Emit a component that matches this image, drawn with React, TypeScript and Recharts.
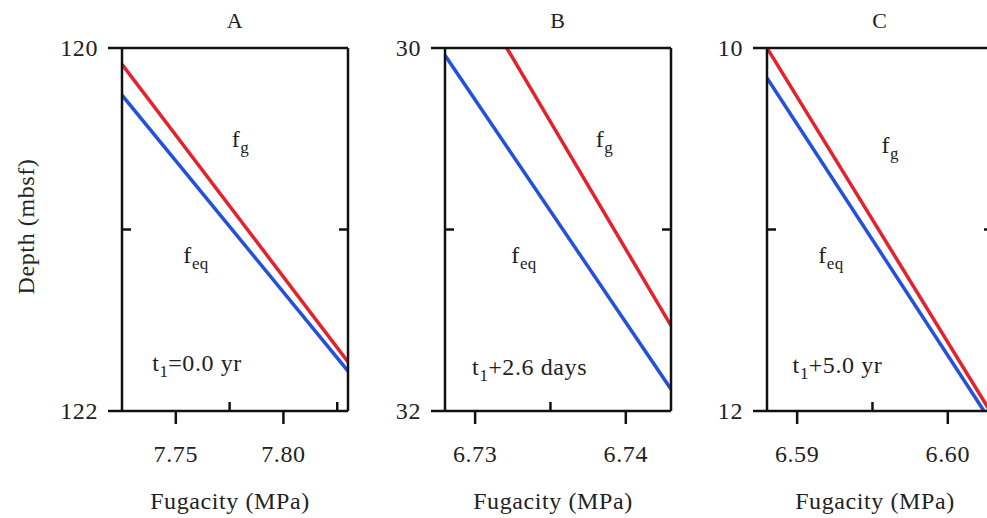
import { LineChart, Line, XAxis, YAxis, ReferenceDot, Label } from 'recharts';

const FONT = 'Liberation Serif';
const INK = '#111';
const RED = '#e5222b';
const BLUE = '#2350df';

// panel A: t1 = 0.0 yr
const xDomainA = [7.725, 7.83];
const xMajorA = [7.75, 7.8];
const xMinorA = [7.775, 7.825];
const yDomainA = [120, 122];
const gasA = [
  { f: 7.725, depth: 120.09 },
  { f: 7.83, depth: 121.73 },
];
const eqA = [
  { f: 7.725, depth: 120.26 },
  { f: 7.83, depth: 121.78 },
];
const notesA = { fg: [7.776, 120.545], feq: [7.7535, 121.185], t: [7.739, 121.78] };

// panel B: t1 + 2.6 days
const xDomainB = [6.728, 6.743];
const xMajorB = [6.73, 6.74];
const xMinorB = [6.735];
const yDomainB = [30, 32];
const gasB = [
  { f: 6.7321, depth: 30.0 },
  { f: 6.743, depth: 31.53 },
];
const eqB = [
  { f: 6.728, depth: 30.04 },
  { f: 6.743, depth: 31.88 },
];
const notesB = { fg: [6.738, 30.545], feq: [6.7324, 31.185], t: [6.7298, 31.8] };

// panel C: t1 + 5.0 yr
const xDomainC = [6.588, 6.603];
const xMajorC = [6.59, 6.6];
const xMinorC = [6.595];
const yDomainC = [10, 12];
const gasC = [
  { f: 6.588, depth: 10.0 },
  { f: 6.6028, depth: 12.0 },
];
const eqC = [
  { f: 6.588, depth: 10.165 },
  { f: 6.6024, depth: 12.0 },
];
const notesC = { fg: [6.5956, 10.58], feq: [6.5914, 11.185], t: [6.5897, 11.79] };

const titles = ['A', 'B', 'C'];
const timeLabels = ['=0.0 yr', '+2.6 days', '+5.0 yr'];

const txt = { fontFamily: FONT, fontSize: 24, fill: '#222', letterSpacing: 0.6 };

function Sub({ base, sub, rest }: { base: string; sub: string; rest?: string }) {
  return (
    <>
      <tspan>{base}</tspan>
      <tspan fontSize={17} dy={6} letterSpacing={0.3}>
        {sub}
      </tspan>
      {rest && <tspan dy={-6}>{rest}</tspan>}
    </>
  );
}

function Panel({
  left,
  title,
  xDomain,
  xMajor,
  xMinor,
  yDomain,
  gas,
  eq,
  notes,
  timeLabel,
  showYLabel,
}: any) {
  const xTicks = [...xMajor, ...xMinor].sort((a, b) => a - b);
  const yMid = (yDomain[0] + yDomain[1]) / 2;

  return (
    <div style={{ position: 'absolute', left, top: 0 }}>
      <LineChart width={358} height={518} margin={{ top: 0, right: 0, bottom: 0, left: 0 }}>
        <XAxis
          xAxisId="bottom"
          dataKey="f"
          type="number"
          domain={xDomain}
          ticks={xTicks}
          interval={0}
          allowDataOverflow
          height={107}
          tickSize={0}
          tickMargin={0}
          tickLine={false}
          axisLine={{ stroke: INK, strokeWidth: 2.5 }}
          tick={(p: any) => {
            const major = xMajor.includes(p.payload.value);
            return (
              <g>
                <line x1={p.x} x2={p.x} y1={p.y} y2={major ? p.y + 13 : p.y - 9} stroke={INK} strokeWidth={2.5} />
                {major && (
                  <text x={p.x} y={p.y + 51} textAnchor="middle" {...txt}>
                    {p.payload.value.toFixed(2)}
                  </text>
                )}
              </g>
            );
          }}
        >
          <Label
            content={(p: any) => (
              <text x={p.viewBox.x + p.viewBox.width / 2 - 5} y={p.viewBox.y + 98} textAnchor="middle" {...txt}>
                Fugacity (MPa)
              </text>
            )}
          />
        </XAxis>
        <XAxis
          xAxisId="top"
          orientation="top"
          type="number"
          domain={xDomain}
          ticks={xTicks}
          interval={0}
          allowDataOverflow
          height={48}
          tickSize={0}
          tickMargin={0}
          tickLine={false}
          axisLine={{ stroke: INK, strokeWidth: 2.5 }}
          tick={(p: any) => (
            <line x1={p.x} x2={p.x} y1={p.y} y2={p.y + 11} stroke={INK} strokeWidth={2.5} />
          )}
        >
          <Label
            content={(p: any) => (
              <text x={p.viewBox.x + p.viewBox.width / 2} y={28} textAnchor="middle" {...txt} fontSize={22}>
                {title}
              </text>
            )}
          />
        </XAxis>
        <YAxis
          yAxisId="left"
          dataKey="depth"
          type="number"
          domain={yDomain}
          ticks={[yDomain[0], yMid, yDomain[1]]}
          interval={0}
          reversed
          allowDataOverflow
          width={122}
          tickSize={0}
          tickMargin={0}
          tickLine={false}
          axisLine={{ stroke: INK, strokeWidth: 2.5 }}
          tick={(p: any) => {
            const major = p.payload.value !== yMid;
            return (
              <g>
                <line x1={p.x} x2={major ? p.x - 14 : p.x + 9} y1={p.y} y2={p.y} stroke={INK} strokeWidth={2.5} />
                {major && (
                  <text x={p.x - 24} y={p.y} dy="0.35em" textAnchor="end" {...txt}>
                    {p.payload.value}
                  </text>
                )}
              </g>
            );
          }}
        >
          {showYLabel && (
            <Label
              content={(p: any) => {
                const cy = p.viewBox.y + p.viewBox.height / 2 - 3;
                return (
                  <text
                    x={26}
                    y={cy}
                    transform={`rotate(-90, 26, ${cy})`}
                    textAnchor="middle"
                    dominantBaseline="central"
                    {...txt}
                  >
                    Depth (mbsf)
                  </text>
                );
              }}
            />
          )}
        </YAxis>
        <YAxis
          yAxisId="right"
          orientation="right"
          type="number"
          domain={yDomain}
          ticks={[yMid]}
          interval={0}
          reversed
          allowDataOverflow
          width={10}
          tickSize={0}
          tickMargin={0}
          tickLine={false}
          axisLine={{ stroke: INK, strokeWidth: 2.5 }}
          tick={(p: any) => <line x1={p.x} x2={p.x - 9} y1={p.y} y2={p.y} stroke={INK} strokeWidth={2.5} />}
        />
        <Line
          data={gas}
          xAxisId="bottom"
          yAxisId="left"
          dataKey="depth"
          stroke={RED}
          strokeWidth={3.5}
          dot={false}
          isAnimationActive={false}
        />
        <Line
          data={eq}
          xAxisId="bottom"
          yAxisId="left"
          dataKey="depth"
          stroke={BLUE}
          strokeWidth={3.5}
          dot={false}
          isAnimationActive={false}
        />
        <ReferenceDot
          xAxisId="bottom"
          yAxisId="left"
          x={notes.fg[0]}
          y={notes.fg[1]}
          r={0}
          shape={(p: any) => (
            <text x={p.cx} y={p.cy} {...txt}>
              <Sub base="f" sub="g" />
            </text>
          )}
        />
        <ReferenceDot
          xAxisId="bottom"
          yAxisId="left"
          x={notes.feq[0]}
          y={notes.feq[1]}
          r={0}
          shape={(p: any) => (
            <text x={p.cx} y={p.cy} {...txt}>
              <Sub base="f" sub="eq" />
            </text>
          )}
        />
        <ReferenceDot
          xAxisId="bottom"
          yAxisId="left"
          x={notes.t[0]}
          y={notes.t[1]}
          r={0}
          shape={(p: any) => (
            <text x={p.cx} y={p.cy} {...txt}>
              <Sub base="t" sub="1" rest={timeLabel} />
            </text>
          )}
        />
      </LineChart>
    </div>
  );
}

export default function App() {
  return (
    <div
      style={{
        position: 'absolute',
        left: 0,
        top: 0,
        width: 987,
        height: 518,
        overflow: 'hidden',
        background: '#fff',
      }}
    >
      <Panel
        left={0}
        title={titles[0]}
        xDomain={xDomainA}
        xMajor={xMajorA}
        xMinor={xMinorA}
        yDomain={yDomainA}
        gas={gasA}
        eq={eqA}
        notes={notesA}
        timeLabel={timeLabels[0]}
        showYLabel
      />
      <Panel
        left={323}
        title={titles[1]}
        xDomain={xDomainB}
        xMajor={xMajorB}
        xMinor={xMinorB}
        yDomain={yDomainB}
        gas={gasB}
        eq={eqB}
        notes={notesB}
        timeLabel={timeLabels[1]}
      />
      <Panel
        left={645}
        title={titles[2]}
        xDomain={xDomainC}
        xMajor={xMajorC}
        xMinor={xMinorC}
        yDomain={yDomainC}
        gas={gasC}
        eq={eqC}
        notes={notesC}
        timeLabel={timeLabels[2]}
      />
    </div>
  );
}
